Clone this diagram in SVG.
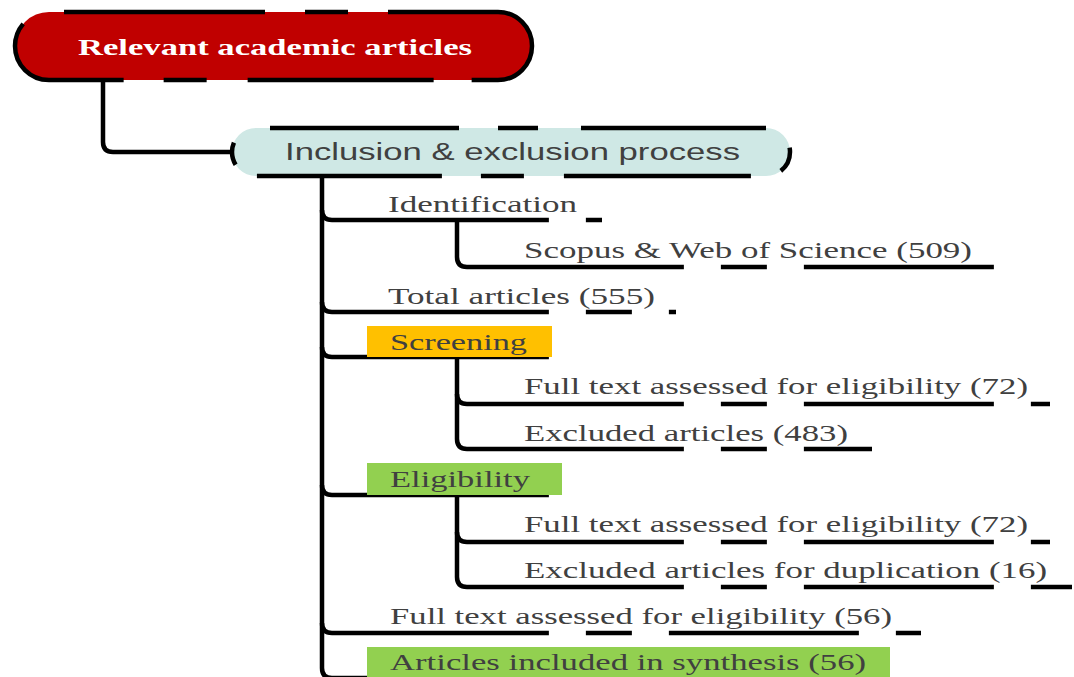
<svg xmlns="http://www.w3.org/2000/svg" width="1074" height="677" viewBox="0 0 1074 677">
<style>
.bg{fill:#ffffff}
.ln{fill:none;stroke:#000;stroke-width:4.5;stroke-linecap:butt}
.br{fill:none;stroke:#000;stroke-width:4.5;stroke-dasharray:233 37 46 37 190 37 46 37}
.lbl{font-family:"Liberation Serif","Times New Roman",serif;font-size:24px;fill:#404040}
.root{font-family:"Liberation Serif","Times New Roman",serif;font-size:24px;font-weight:bold;fill:#ffffff}
.sans{font-family:"Liberation Sans",Arial,sans-serif;font-size:24px;fill:#404040}
.bord{fill:none;stroke:#000;stroke-width:4.5}
</style>
<rect class="bg" x="0" y="0" width="1074" height="677"/>

<g id="connectors">
  <path class="ln" d="M103,80 V142 Q103,152 113,152 H232"/>
  <path class="ln" d="M322,176 V668 Q322,678 332,678 H380"/>
  <path class="ln" d="M457,220 V257"/>
  <path class="ln" d="M457,357 V439"/>
  <path class="ln" d="M457,495 V577"/>
  <path class="br" d="M322,210 Q322,220 332,220 H602"/>
  <path class="br" d="M457,257 Q457,267 467,267 H995"/>
  <path class="br" d="M322,302 Q322,312 332,312 H676"/>
  <path class="br" d="M322,347 Q322,357 332,357 H552"/>
  <path class="br" d="M457,394 Q457,404 467,404 H1050"/>
  <path class="br" d="M457,439 Q457,449 467,449 H872"/>
  <path class="br" d="M322,485 Q322,495 332,495 H552"/>
  <path class="br" d="M457,532 Q457,542 467,542 H1050"/>
  <path class="br" d="M457,577 Q457,587 467,587 H1072"/>
  <path class="br" d="M322,623 Q322,633 332,633 H921"/>
</g>

<g id="node-root">
  <rect x="15" y="12" width="517" height="68" rx="34" ry="34" fill="#c00000"/>
  <path class="bord" d="M49,12 H498 A34,34 0 0 1 498,80 H49 A34,34 0 0 1 49,12 Z" stroke-dasharray="0 15 201 40 43 40 243 38 186 41 43 40 152 30"/>
  <text class="root" transform="translate(78,55) scale(1.44,1)" textLength="273.6" lengthAdjust="spacingAndGlyphs">Relevant academic articles</text>
</g>

<g id="node-inclusion">
  <rect x="232" y="128" width="558" height="48" rx="24" ry="24" fill="#cfe8e5"/>
  <path class="bord" d="M256,128 H766 A24,24 0 0 1 766,176 H256 A24,24 0 0 1 256,128 Z" stroke-dasharray="0 14 189 39 40 43 185 33 26 31 187 40 43 39 185 25 23 28"/>
  <text class="sans" transform="translate(285,160) scale(1.44,1)" textLength="316" lengthAdjust="spacingAndGlyphs">Inclusion &amp; exclusion process</text>
</g>

<g id="node-identification">
  <text class="lbl" transform="translate(388,212) scale(1.44,1)" textLength="131.3" lengthAdjust="spacingAndGlyphs">Identification</text>
</g>
<g id="node-scopus">
  <text class="lbl" transform="translate(524,258) scale(1.44,1)" textLength="311.1" lengthAdjust="spacingAndGlyphs">Scopus &amp; Web of Science (509)</text>
</g>
<g id="node-total">
  <text class="lbl" transform="translate(388,304) scale(1.44,1)" textLength="185.4" lengthAdjust="spacingAndGlyphs">Total articles (555)</text>
</g>
<g id="node-screening">
  <rect x="367" y="326" width="185" height="31" fill="#ffc000"/>
  <text class="lbl" transform="translate(390,350) scale(1.44,1)" textLength="95.1" lengthAdjust="spacingAndGlyphs" fill="#333">Screening</text>
</g>
<g id="node-fulltext-72a">
  <text class="lbl" transform="translate(524,394) scale(1.44,1)" textLength="350" lengthAdjust="spacingAndGlyphs">Full text assessed for eligibility (72)</text>
</g>
<g id="node-excluded-483">
  <text class="lbl" transform="translate(524,441) scale(1.44,1)" textLength="225" lengthAdjust="spacingAndGlyphs">Excluded articles (483)</text>
</g>
<g id="node-eligibility">
  <rect x="367" y="463" width="195" height="32" fill="#92d050"/>
  <text class="lbl" transform="translate(390,487) scale(1.44,1)" textLength="97.2" lengthAdjust="spacingAndGlyphs">Eligibility</text>
</g>
<g id="node-fulltext-72b">
  <text class="lbl" transform="translate(524,532) scale(1.44,1)" textLength="350" lengthAdjust="spacingAndGlyphs">Full text assessed for eligibility (72)</text>
</g>
<g id="node-excluded-dup">
  <text class="lbl" transform="translate(524,578) scale(1.44,1)" textLength="363.2" lengthAdjust="spacingAndGlyphs">Excluded articles for duplication (16)</text>
</g>
<g id="node-fulltext-56">
  <text class="lbl" transform="translate(390,624) scale(1.44,1)" textLength="348.6" lengthAdjust="spacingAndGlyphs">Full text assessed for eligibility (56)</text>
</g>
<g id="node-synthesis">
  <rect x="367" y="647" width="523" height="31" fill="#92d050"/>
  <text class="lbl" transform="translate(390,670) scale(1.44,1)" textLength="330.6" lengthAdjust="spacingAndGlyphs" fill="#333">Articles included in synthesis (56)</text>
</g>
</svg>
